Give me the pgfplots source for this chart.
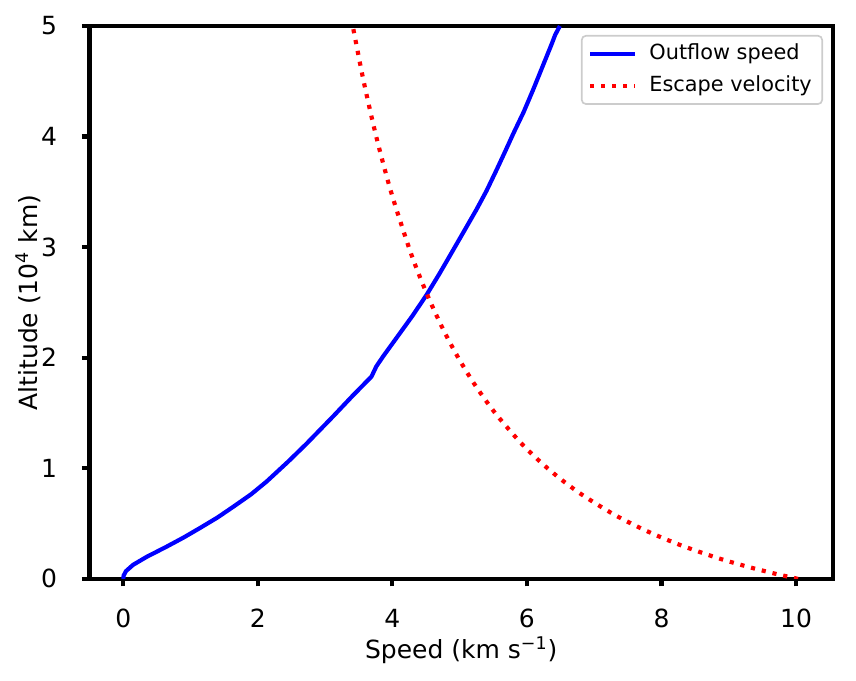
\documentclass[border=0pt]{standalone}
\usepackage{pgfplots}
\pgfplotsset{compat=1.18}
\usepackage{fontspec}
\setmainfont{DejaVu Sans}
\begin{document}
\fontsize{12bp}{14.4bp}\selectfont
\begin{tikzpicture}
\begin{axis}[
  scale only axis,
  width=356.9bp, height=265.4bp,
  xmin=-0.5025, xmax=10.55, ymin=0, ymax=5,
  xtick={0,2,4,6,8,10}, ytick={0,1,2,3,4,5},
  xtick pos=left, ytick pos=left,
  tick align=outside,
  major tick length=3.6bp,
  line width=2bp,
  tick style={line width=2bp, black},
  /pgf/number format/assume math mode=true,
  ticklabel style={font=\fontsize{12bp}{14.4bp}\selectfont},
  xticklabel style={anchor=base, inner sep=0pt, yshift=-19.7bp},
  yticklabel style={anchor=east, inner sep=0pt, xshift=-11bp},
  label style={font=\fontsize{12bp}{14.4bp}\selectfont},
  xlabel={Speed (km s\textsuperscript{−1})},
  ylabel={Altitude (10\textsuperscript{4} km)},
  xlabel style={at={([yshift=-38.1bp]axis description cs:0.5,0)}, anchor=base, inner sep=0pt},
  ylabel style={at={([xshift=-25.1bp]axis description cs:0,0.5)}, anchor=base, inner sep=0pt},
  legend style={at={(1,1)}, anchor=north east, xshift=-4.8bp, yshift=-4.3bp,
    draw=black!20, line width=0.8bp, rounded corners=2bp,
    font=\fontsize{10bp}{12bp}\selectfont, row sep=2bp, inner xsep=3bp, inner ysep=2bp},
  legend cell align=left,
  legend image code/.code={\draw[#1] (0bp,0bp) -- (21.6bp,0bp); \path (25.5bp,0bp);},
]
\addplot[blue, line width=2bp, line join=round] coordinates {
(0.000,0.000) (0.005,0.030) (0.04,0.07) (0.146,0.127) (0.35,0.20) (0.64,0.29)
(0.90,0.375) (1.14,0.46) (1.40,0.555) (1.63,0.65) (1.90,0.765) (2.13,0.88)
(2.45,1.06) (2.72,1.22) (3.12,1.47) (3.40,1.65) (3.69,1.83) (3.76,1.92)
(3.86,2.01) (4.11,2.22) (4.30,2.38) (4.51,2.57) (4.70,2.76) (4.90,2.97)
(5.08,3.16) (5.25,3.34) (5.40,3.51) (5.55,3.70) (5.68,3.87) (5.80,4.03)
(5.95,4.22) (6.09,4.42) (6.23,4.63) (6.37,4.84) (6.42,4.92) (6.49,5.00)
};
\addlegendentry{Outflow speed}
\addplot[red, line width=2bp, dash pattern=on 2bp off 3.3bp, smooth] coordinates {
(10.03,0.000) (9.844,0.025) (9.667,0.05) (9.341,0.10) (9.046,0.15) (8.777,0.20)
(8.305,0.30) (7.901,0.40) (7.551,0.50) (7.243,0.60) (6.846,0.75) (6.560,0.875)
(6.307,1.00) (6.081,1.125) (5.879,1.25) (5.527,1.50) (5.232,1.75) (4.979,2.00)
(4.760,2.25) (4.568,2.50) (4.396,2.75) (4.244,3.00) (3.980,3.50) (3.760,4.00)
(3.573,4.50) (3.411,5.00)
};
\addlegendentry{Escape velocity}
\end{axis}
\pgfresetboundingbox
\path[use as bounding box] ([xshift=-42.96bp,yshift=-48.96bp]current axis.south west) rectangle ([xshift=11.04bp,yshift=12.48bp]current axis.north east);
\end{tikzpicture}
\end{document}
